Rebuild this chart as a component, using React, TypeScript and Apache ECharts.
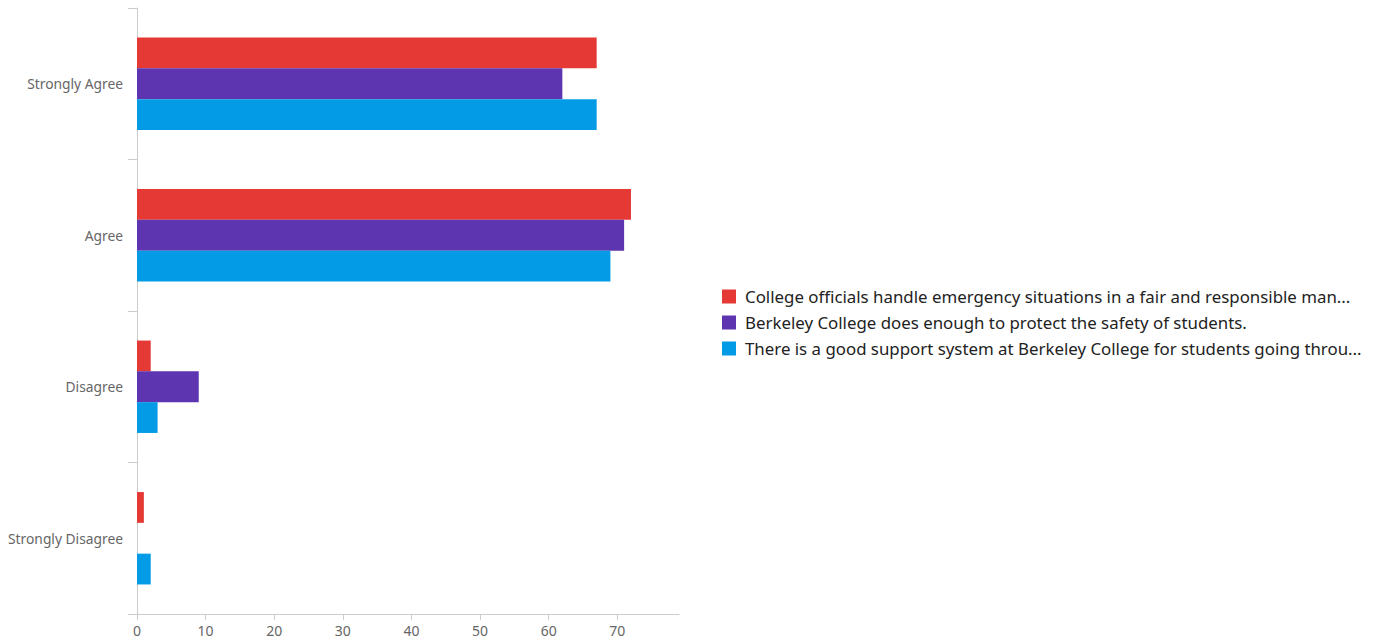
import React, { useEffect, useRef } from "react";
import * as echarts from "echarts";

const categories = ["Strongly Agree", "Agree", "Disagree", "Strongly Disagree"];
const seriesNames = [
  "College officials handle emergency situations in a fair and responsible man...",
  "Berkeley College does enough to protect the safety of students.",
  "There is a good support system at Berkeley College for students going throu...",
];
const officialsValues = [67, 72, 2, 1];
const safetyValues = [62, 71, 9, 0];
const supportValues = [67, 69, 3, 2];
const colors = ["#E53935", "#5E35B1", "#039BE5"];

export default function App() {
  const ref = useRef<HTMLDivElement>(null);
  useEffect(() => {
    const chart = echarts.init(ref.current!, undefined, { renderer: "svg" });
    const data = [officialsValues, safetyValues, supportValues];
    chart.setOption({
      animation: false,
      textStyle: { fontFamily: "Noto Sans" },
      grid: { left: 137, right: 698, top: 8, bottom: 29, containLabel: false },
      legend: {
        orient: "vertical",
        left: 717,
        top: 283,
        itemWidth: 14,
        itemHeight: 14,
        itemGap: 9,
        icon: "rect",
        textStyle: {
          fontSize: 16.85,
          lineHeight: 17,
          color: "#222",
          fontFamily: "Noto Sans",
          padding: [0, 0, 0, 4],
        },
        data: seriesNames,
      },
      xAxis: {
        type: "value",
        min: 0,
        max: 79,
        interval: 10,
        axisLine: { show: true, lineStyle: { color: "#ccc" } },
        axisTick: { show: true, length: 6, lineStyle: { color: "#ccc" } },
        splitLine: { show: false },
        axisLabel: { color: "#666", fontSize: 14, margin: 9, showMaxLabel: false },
      },
      yAxis: {
        type: "category",
        inverse: true,
        data: categories,
        axisLine: { show: true, lineStyle: { color: "#ccc" } },
        axisTick: { show: true, length: 9, lineStyle: { color: "#ccc" } },
        axisLabel: { color: "#666", fontSize: 13.8, margin: 14 },
      },
      series: seriesNames.map((name, i) => ({
        name,
        type: "bar",
        data: data[i],
        barCategoryGap: "39%",
        barGap: "0%",
        itemStyle: { color: colors[i] },
      })),
    });
    return () => chart.dispose();
  }, []);
  return <div ref={ref} style={{ width: 1377, height: 643, position: "absolute", left: 0, top: 0 }} />;
}
